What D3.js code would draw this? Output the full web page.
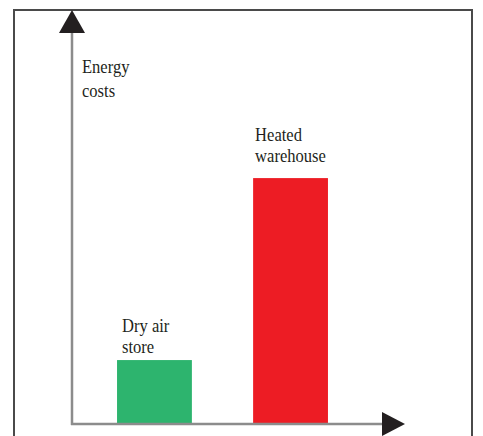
<!DOCTYPE html>
<html>
<head>
<meta charset="utf-8">
<script src="https://cdn.jsdelivr.net/npm/d3@7"></script>
<style>
html,body{margin:0;padding:0;background:#fff;}
svg{display:block;}
</style>
</head>
<body>
<svg id="chart" width="483" height="436"></svg>
<script>
const categories = ["Dry air store", "Heated warehouse"];
const labelLines = [["Dry air", "store"], ["Heated", "warehouse"]];
const values = [26, 100];
const colors = ["#2db46e", "#ed1c24"];
const yAxisLabel = ["Energy", "costs"];

const svg = d3.select("#chart");
const W = 483, H = 436;
const FONT = "'Liberation Serif', 'Times New Roman', Times, 'DejaVu Serif', serif";

// frame
svg.append("path")
  .attr("d", `M14,${H+2} L14,10 L472,10 L472,${H+2}`)
  .attr("fill", "none").attr("stroke", "#4a4a4a").attr("stroke-width", 2);

const x = d3.scaleBand().domain(categories).range([49, 396]).paddingInner(0.45).paddingOuter(0.5);
const y = d3.scaleLinear().domain([0, 159]).range([424, 33]);
const x0 = 72, xEnd = 382;

// bars
svg.selectAll("rect.bar").data(categories).join("rect")
  .attr("class", "bar")
  .attr("x", d => x(d))
  .attr("width", x.bandwidth())
  .attr("y", (d, i) => y(values[i]))
  .attr("height", (d, i) => y(0) - y(values[i]))
  .attr("fill", (d, i) => colors[i]);

// axes lines
svg.append("line").attr("x1", x0).attr("x2", x0).attr("y1", y(0) + 1).attr("y2", y.range()[1])
  .attr("stroke", "#8c8c8c").attr("stroke-width", 2.5);
svg.append("line").attr("x1", x0 - 1).attr("x2", xEnd).attr("y1", y(0)).attr("y2", y(0))
  .attr("stroke", "#8c8c8c").attr("stroke-width", 2.5);

// arrowheads
const yt = y.range()[1];
svg.append("path").attr("d", `M${x0},10 L${x0+13},${yt} L${x0-13},${yt} Z`).attr("fill", "#231f20");
svg.append("path").attr("d", `M405,${y(0)} L${xEnd},${y(0)-12} L${xEnd},${y(0)+12} Z`).attr("fill", "#231f20");

// y axis label
const fs = 18;
function addText(tx, ty, t) {
  svg.append("text").attr("x", tx).attr("y", ty)
    .attr("font-family", FONT).attr("font-size", fs).attr("fill", "#231f20")
    .attr("transform", `translate(${tx},0) scale(0.92,1) translate(${-tx},0)`)
    .text(t);
}
yAxisLabel.forEach((t, i) => addText(x0 + 10, 73 + i * 24, t));

// bar labels
const labelGap = [7, 16];
const labelDx = [5, 2];
categories.forEach((c, i) => {
  const lines = labelLines[i];
  const base = y(values[i]) - labelGap[i];
  lines.forEach((t, j) => addText(x(c) + labelDx[i], base - (lines.length - 1 - j) * 21.5, t));
});
</script>
</body>
</html>
